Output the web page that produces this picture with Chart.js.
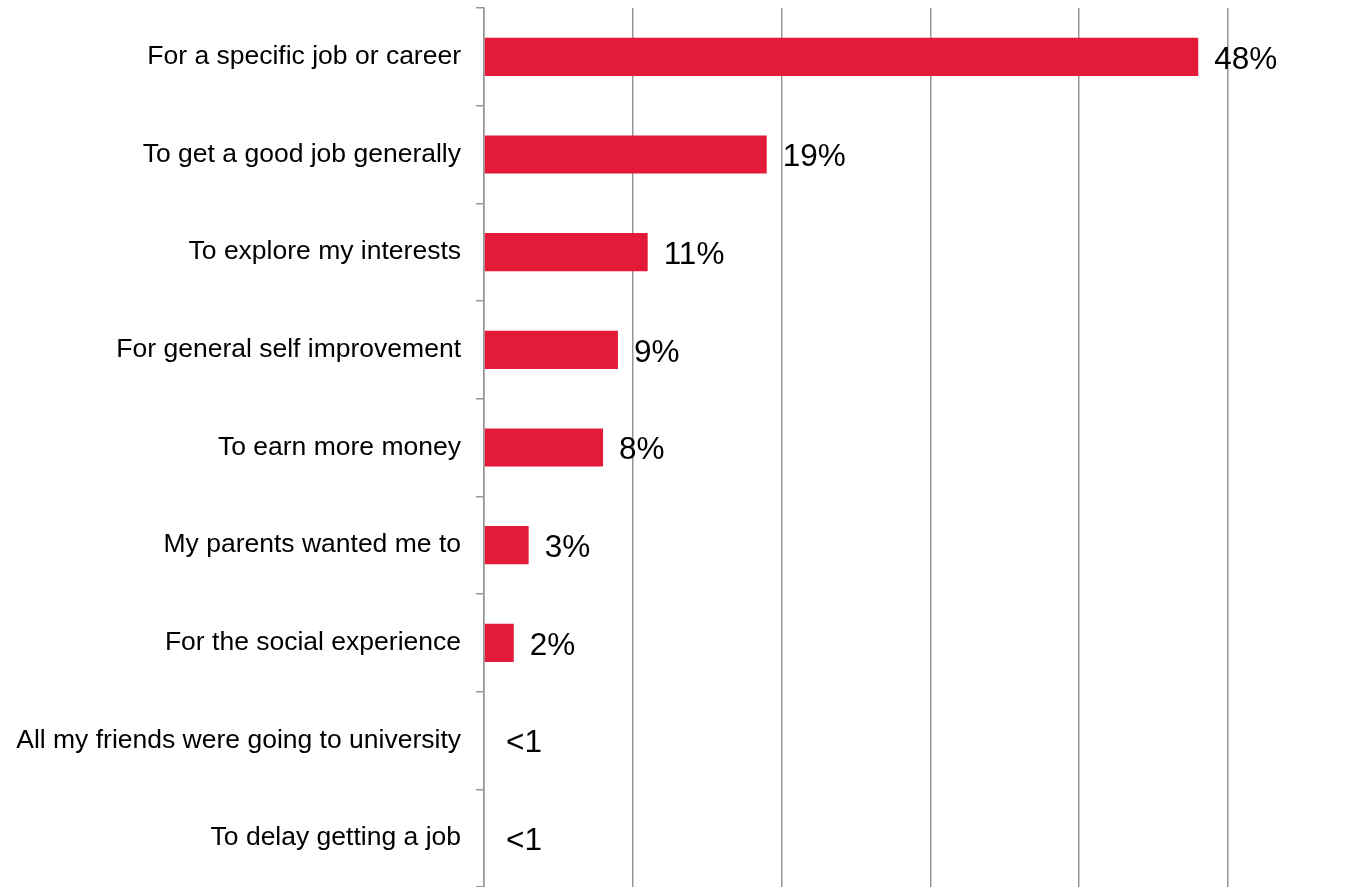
<!DOCTYPE html>
<html>
<head>
<meta charset="utf-8">
<script src="https://cdn.jsdelivr.net/npm/chart.js@4.4.1/dist/chart.umd.min.js"></script>
<style>
  html, body { margin: 0; padding: 0; background: #fff; }
  #wrap { width: 1364px; height: 887px; }
</style>
</head>
<body>
<div id="wrap"><canvas id="reasonChart"></canvas></div>
<script>
// ------- reasons for going to university -------

const reasons = [
  'For a specific job or career',
  'To get a good job generally',
  'To explore my interests',
  'For general self improvement',
  'To earn more money',
  'My parents wanted me to',
  'For the social experience',
  'All my friends were going to university',
  'To delay getting a job'
];
const shares = [48, 19, 11, 9, 8, 3, 2, 0, 0];
const shareLabels = ['48%', '19%', '11%', '9%', '8%', '3%', '2%', '<1', '<1'];

// writes the value text just past the end of each bar
const valueLabels = {
  id: 'valueLabels',
  afterDatasetsDraw(chart) {
    const ctx = chart.ctx;
    const meta = chart.getDatasetMeta(0);
    ctx.save();
    ctx.font = '31.5px "Liberation Sans", Arial, sans-serif';
    ctx.fillStyle = '#000';
    ctx.textAlign = 'left';
    ctx.textBaseline = 'middle';
    meta.data.forEach(function(bar, i) {
      const gap = shares[i] > 0 ? 16 : 22;
      ctx.fillText(shareLabels[i], bar.x + gap, bar.y + 3);
    });
    ctx.restore();
  }
};

data = {
  labels: reasons,
  datasets: [
    {
      label: 'Share',
      data: shares,
      backgroundColor: '#E31A38',
      borderWidth: 0,
      barPercentage: 0.39,
      categoryPercentage: 1.0
    }
  ]
};

config = {
  type: 'bar',
  data: data,
  options: {
    indexAxis: 'y',
    responsive: true,
    maintainAspectRatio: false,
    animation: false,
    layout: { padding: { top: 8, right: 136, bottom: 0, left: 0 } },
    scales: {
      x: {
        min: 0,
        max: 50,
        afterFit(scale) { scale.height = 0; },
        ticks: { display: false, stepSize: 10 },
        grid: { color: '#959595', lineWidth: 1.5, drawTicks: false },
        border: { display: false }
      },
      y: {
        afterFit(scale) {
          scale.width = 484;
          scale.paddingTop = 0;
          scale.paddingBottom = 0;
        },
        ticks: {
          color: '#000',
          padding: 15,
          font: { family: '"Liberation Sans", Arial, sans-serif', size: 26.5 }
        },
        grid: { offset: true, drawOnChartArea: false, color: '#959595', tickLength: 8, lineWidth: 1.5 },
        border: { display: true, color: '#959595', width: 1.5 }
      }
    },
    plugins: {
      legend: { display: false },
      tooltip: { enabled: false }
    }
  },
  plugins: [valueLabels]
};

myChart = new Chart(document.getElementById('reasonChart'), config);
</script>
</body>
</html>
